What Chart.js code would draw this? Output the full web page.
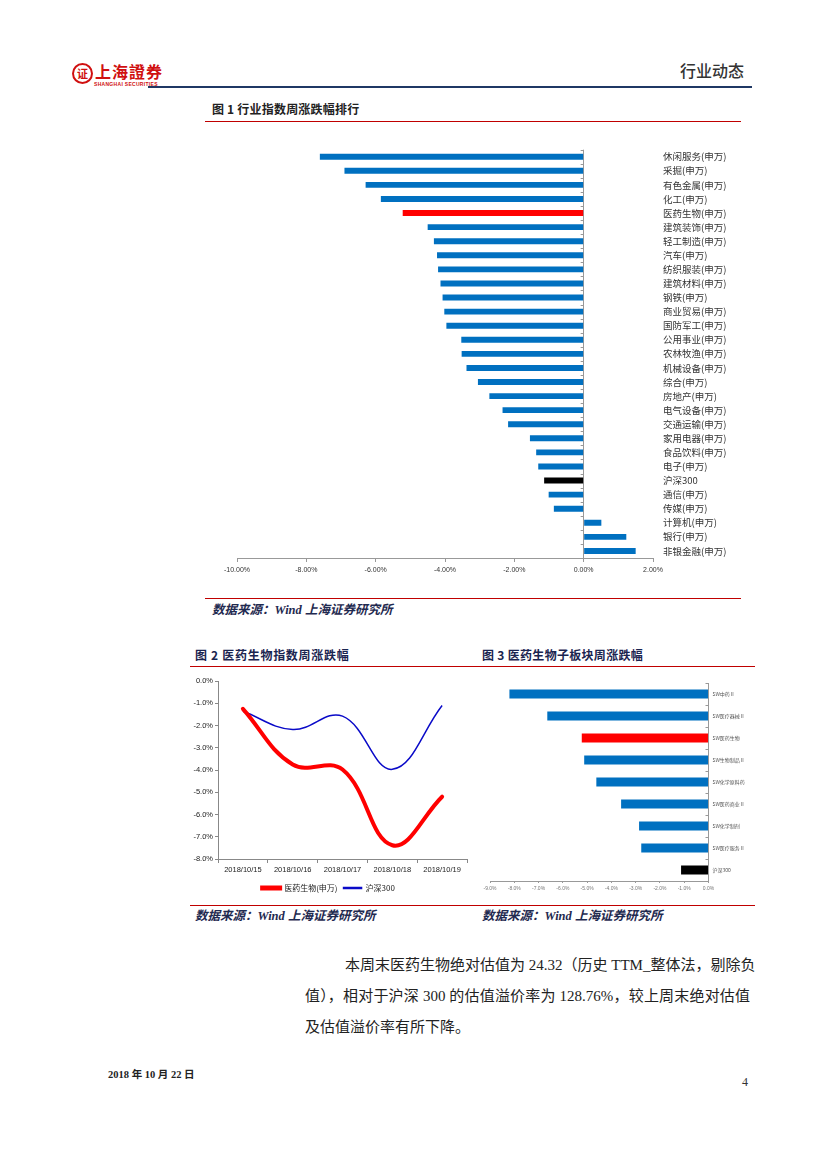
<!DOCTYPE html>
<html>
<head>
<meta charset="utf-8">
<script src="https://cdn.jsdelivr.net/npm/chart.js@4.4.1/dist/chart.umd.min.js"></script>
<style>
  html, body { margin: 0; padding: 0; background: #fff; }
  #page { position: relative; width: 827px; height: 1169px; overflow: hidden; font-family: "Liberation Serif", "Noto Sans CJK SC", serif; }
  .abs { position: absolute; }
  .rule { position: absolute; height: 1px; background: #c00000; }
  .figtitle { position: absolute; font-family: "Noto Sans CJK SC", sans-serif; font-weight: bold; font-size: 12px; line-height: 14px; white-space: nowrap; }
  .source { position: absolute; font-family: "Liberation Serif", "Noto Sans CJK SC", serif; font-weight: bold; font-style: italic; font-size: 12.5px; line-height: 15px; color: #1f2a50; white-space: nowrap; }
  .body { position: absolute; font-family: "Liberation Serif", "Noto Sans CJK SC", serif; font-size: 15px; line-height: 20px; color: #222; white-space: nowrap; }
  .just { text-align: justify; text-align-last: justify; }
  canvas { position: absolute; }
</style>
</head>
<body>
<div id="page">
  <!-- header -->
  <div class="abs" style="left:72px;top:63px;width:17px;height:17px;border:2px solid #d01010;border-radius:50%;color:#d01010;font:bold 11px 'Noto Sans CJK SC';line-height:17px;text-align:center;">证</div>
  <div class="abs" style="left:95px;top:61px;color:#d01010;font:bold 16px 'Noto Sans CJK SC';line-height:20px;letter-spacing:1px;">上海證券</div>
  <div class="abs" style="left:94px;top:81px;color:#d01010;font:bold 5px 'Liberation Sans';line-height:6px;letter-spacing:0.3px;">SHANGHAI SECURITIES</div>
  <div class="abs" style="left:680px;top:60px;color:#333;font:500 16px 'Noto Sans CJK SC';line-height:20px;">行业动态</div>
  <div class="abs" style="left:148px;top:86px;width:604px;height:2px;background:#1f3864;"></div>

  <!-- figure 1 -->
  <div class="figtitle" style="left:212px;top:102px;color:#222;letter-spacing:0.2px;">图 1 行业指数周涨跌幅排行</div>
  <div class="rule" style="left:205px;top:121px;width:536px;"></div>
  <canvas id="fig1" width="545" height="446" style="left:215px;top:134px;"></canvas>
  <div class="rule" style="left:205px;top:598px;width:536px;"></div>
  <div class="source" style="left:212px;top:603px;">数据来源：Wind 上海证券研究所</div>

  <!-- figure 2 / 3 -->
  <div class="figtitle" style="left:195px;top:648px;color:#1a2450;letter-spacing:0.7px;">图 2 医药生物指数周涨跌幅</div>
  <div class="figtitle" style="left:482px;top:648px;color:#1a2450;letter-spacing:0.3px;">图 3 医药生物子板块周涨跌幅</div>
  <div class="rule" style="left:190px;top:666px;width:565px;"></div>
  <canvas id="fig2" width="285" height="230" style="left:190px;top:672px;"></canvas>
  <canvas id="fig3" width="280" height="220" style="left:480px;top:675px;"></canvas>
  <div class="rule" style="left:190px;top:905px;width:565px;"></div>
  <div class="source" style="left:195px;top:909px;">数据来源：Wind 上海证券研究所</div>
  <div class="source" style="left:482px;top:909px;">数据来源：Wind 上海证券研究所</div>

  <!-- text -->
  <div class="body just" style="left:345px;top:955px;width:405px;">本周末医药生物绝对估值为 24.32（历史 TTM_整体法，剔除负</div>
  <div class="body just" style="left:305px;top:986px;width:445px;">值），相对于沪深 300 的估值溢价率为 128.76%，较上周末绝对估值</div>
  <div class="body" style="left:305px;top:1017px;">及估值溢价率有所下降。</div>

  <!-- footer -->
  <div class="abs" style="left:108px;top:1068px;font:bold 10.5px 'Liberation Serif','Noto Sans CJK SC';line-height:13px;color:#222;">2018 年 10 月 22 日</div>
  <div class="abs" style="left:742px;top:1075px;font:12px 'Liberation Serif';line-height:14px;color:#333;">4</div>
</div>

<script>
// 图1 行业指数周涨跌幅 (%)
const industryLabels = ['休闲服务(申万)', '采掘(申万)', '有色金属(申万)', '化工(申万)', '医药生物(申万)',
  '建筑装饰(申万)', '轻工制造(申万)', '汽车(申万)', '纺织服装(申万)', '建筑材料(申万)', '钢铁(申万)',
  '商业贸易(申万)', '国防军工(申万)', '公用事业(申万)', '农林牧渔(申万)', '机械设备(申万)', '综合(申万)',
  '房地产(申万)', '电气设备(申万)', '交通运输(申万)', '家用电器(申万)', '食品饮料(申万)', '电子(申万)',
  '沪深300', '通信(申万)', '传媒(申万)', '计算机(申万)', '银行(申万)', '非银金融(申万)'];
const industryValues = [-7.61, -6.90, -6.29, -5.85, -5.22, -4.50, -4.32, -4.23, -4.20, -4.13, -4.07,
  -4.02, -3.96, -3.53, -3.52, -3.38, -3.05, -2.72, -2.34, -2.18, -1.55, -1.37, -1.31,
  -1.14, -1.01, -0.86, 0.51, 1.23, 1.50];
const industryTicks = [-10, -8, -6, -4, -2, 0, 2];

// 图2 医药生物指数周涨跌幅 (%)
const weekDates = ['2018/10/15', '2018/10/16', '2018/10/17', '2018/10/18', '2018/10/19'];
const pharmaSeries = [-1.25, -3.75, -3.98, -7.38, -5.20];
const hs300Series = [-1.36, -2.18, -1.58, -3.97, -1.10];

// 图3 医药生物子板块周涨跌幅 (%)
const subLabels = ['SW中药Ⅱ', 'SW医疗器械Ⅱ', 'SW医药生物', 'SW生物制品Ⅱ', 'SW化学原料药',
  'SW医药商业Ⅱ', 'SW化学制剂', 'SW医疗服务Ⅱ', '沪深300'];
const subValues = [-8.20, -6.64, -5.22, -5.12, -4.62, -3.60, -2.86, -2.77, -1.13];

const BLUE = '#0070c0';
function barColor(label) {
  if (label.indexOf('医药生物') >= 0) return '#ff0000';
  if (label === '沪深300') return '#000000';
  return BLUE;
}

// small tick marks on the zero axis between categories
const zeroTicks = {
  id: 'zeroTicks',
  afterDatasetsDraw(chart, args, opts) {
    const x = chart.scales.x.getPixelForValue(0);
    const y = chart.scales.y;
    const ctx = chart.ctx;
    ctx.save();
    ctx.strokeStyle = '#999';
    ctx.lineWidth = 1;
    for (let i = 0; i <= chart.data.labels.length; i++) {
      const py = Math.round(y.getPixelForValue(i - 0.5)) + 0.5;
      ctx.beginPath();
      ctx.moveTo(x - opts.len, py);
      ctx.lineTo(x, py);
      ctx.stroke();
    }
    ctx.restore();
  }
};

const zeroGrid = ctx => (ctx.tick && ctx.tick.value === 0) ? '#999' : 'rgba(0,0,0,0)';

new Chart(document.getElementById('fig1'), {
  type: 'bar',
  data: {
    labels: industryLabels,
    datasets: [{
      data: industryValues,
      backgroundColor: industryLabels.map(barColor),
      barPercentage: 0.42,
      categoryPercentage: 1
    }]
  },
  options: {
    indexAxis: 'y',
    responsive: false,
    animation: false,
    layout: { padding: { left: 22, top: 8, right: 0, bottom: 0 } },
    plugins: { legend: { display: false }, tooltip: { enabled: false }, zeroTicks: { len: 3 } },
    scales: {
      x: {
        min: industryTicks[0],
        max: industryTicks[industryTicks.length - 1],
        afterBuildTicks: s => { s.ticks = industryTicks.map(v => ({ value: v })); },
        ticks: {
          callback: v => v.toFixed(2) + '%',
          font: { family: 'Liberation Sans', size: 7 },
          color: '#333',
          padding: 4,
          maxRotation: 0
        },
        grid: { color: zeroGrid, tickColor: '#999', tickLength: 4 },
        border: { color: '#999' },
        afterFit: s => { s.height = 22; }
      },
      y: {
        position: 'right',
        grid: { display: false, drawTicks: false },
        border: { display: false },
        ticks: {
          autoSkip: false,
          padding: 10,
          font: { family: 'Noto Sans CJK SC', size: 9.5 },
          color: '#333'
        },
        afterFit: s => { s.width = 107; }
      }
    }
  },
  plugins: [zeroTicks]
});

new Chart(document.getElementById('fig2'), {
  type: 'line',
  data: {
    labels: weekDates,
    datasets: [
      {
        label: '医药生物(申万)',
        data: pharmaSeries,
        borderColor: '#ff0000',
        backgroundColor: '#ff0000',
        borderWidth: 4,
        borderCapStyle: 'round',
        tension: 0.4,
        pointRadius: 0
      },
      {
        label: '沪深300',
        data: hs300Series,
        borderColor: '#0a0ac8',
        backgroundColor: '#0a0ac8',
        borderWidth: 1.5,
        tension: 0.4,
        pointRadius: 0
      }
    ]
  },
  options: {
    responsive: false,
    animation: false,
    layout: { padding: { left: 0, top: 9, right: 8, bottom: 0 } },
    plugins: {
      tooltip: { enabled: false },
      legend: {
        position: 'bottom',
        labels: {
          boxWidth: 18,
          boxHeight: 1,
          padding: 6,
          font: { family: 'Noto Sans CJK SC', size: 8 },
          color: '#222'
        }
      }
    },
    scales: {
      x: {
        offset: true,
        grid: { offset: true, drawOnChartArea: false, tickLength: 4, color: '#888' },
        border: { color: '#888' },
        ticks: { font: { family: 'Liberation Sans', size: 7.5 }, color: '#222', padding: 2, maxRotation: 0 },
        afterFit: s => { s.height = 19; }
      },
      y: {
        min: -8,
        max: 0,
        ticks: {
          stepSize: 1,
          callback: v => v.toFixed(1) + '%',
          font: { family: 'Liberation Sans', size: 7.5 },
          color: '#222',
          padding: 2
        },
        grid: { drawOnChartArea: false, tickLength: 3, color: '#888' },
        border: { color: '#888' },
        afterFit: s => { s.width = 28; }
      }
    }
  }
});

new Chart(document.getElementById('fig3'), {
  type: 'bar',
  data: {
    labels: subLabels,
    datasets: [{
      data: subValues,
      backgroundColor: subLabels.map(barColor),
      barPercentage: 0.4,
      categoryPercentage: 1
    }]
  },
  options: {
    indexAxis: 'y',
    responsive: false,
    animation: false,
    layout: { padding: { left: 10, top: 8, right: 0, bottom: 0 } },
    plugins: { legend: { display: false }, tooltip: { enabled: false }, zeroTicks: { len: 3 } },
    scales: {
      x: {
        min: -9,
        max: 0,
        ticks: {
          stepSize: 1,
          callback: v => v.toFixed(1) + '%',
          font: { family: 'Liberation Sans', size: 5 },
          color: '#777',
          padding: 3,
          maxRotation: 0
        },
        grid: { color: zeroGrid, tickColor: '#999', tickLength: 2 },
        border: { color: '#999' },
        afterFit: s => { s.height = 14; }
      },
      y: {
        position: 'right',
        grid: { display: false, drawTicks: false },
        border: { display: false },
        ticks: {
          autoSkip: false,
          padding: 4,
          font: { family: 'Noto Sans CJK SC', size: 5 },
          color: '#555'
        },
        afterFit: s => { s.width = 51.5; }
      }
    }
  },
  plugins: [zeroTicks]
});
</script>
</body>
</html>
